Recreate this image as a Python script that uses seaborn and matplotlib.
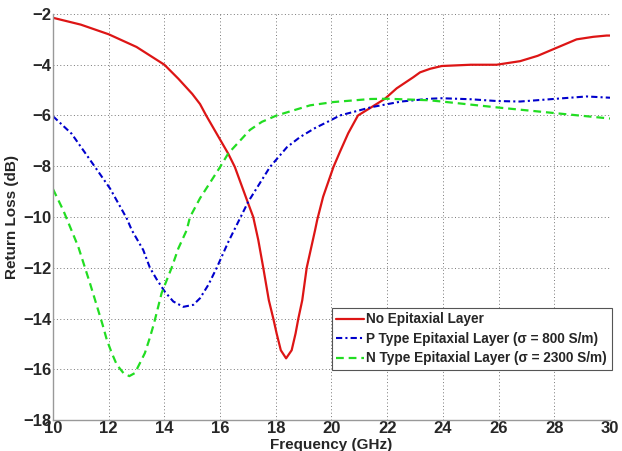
import matplotlib
matplotlib.use('Agg')
import matplotlib.pyplot as plt
import seaborn as sns

# (GHz, dB)
freq_none = [10, 11, 12, 13, 14, 14.5, 15, 15.28, 15.5, 16, 16.29, 16.53, 17.01, 17.19,
             17.37, 17.55, 17.75, 17.91, 18.03, 18.18, 18.37, 18.57, 18.71, 18.81, 18.95,
             19.11, 19.41, 19.49, 19.7, 20.07, 20.3, 20.6, 20.95, 21.44, 21.92, 22.34,
             22.94, 23.18, 23.54, 23.96, 25.0, 25.93, 26.77, 27.4, 27.96, 28.8, 29.4,
             29.88, 30]
rl_none = [-2.15, -2.42, -2.8, -3.3, -4.0, -4.55, -5.15, -5.55, -6.0, -6.95, -7.5, -8.03,
           -9.47, -10.0, -10.9, -12.0, -13.28, -14.0, -14.59, -15.25, -15.57, -15.25,
           -14.59, -14.0, -13.28, -12.0, -10.52, -10.1, -9.2, -8.03, -7.44, -6.7, -6.0,
           -5.67, -5.34, -4.93, -4.49, -4.3, -4.16, -4.05, -4.0, -4.0, -3.86, -3.65,
           -3.39, -3.0, -2.9, -2.85, -2.85]

freq_p = [10, 10.67, 11.51, 12.05, 12.65, 12.83, 13.24, 13.48, 13.72, 14.02, 14.32, 14.68,
          15.04, 15.28, 15.58, 15.88, 16.3, 17.01, 17.79, 18.4, 18.87, 19.4, 19.95, 20.3,
          21.44, 22.5, 23.54, 23.96, 25.0, 25.93, 26.77, 27.96, 29.16, 30]
rl_p = [-6.03, -6.72, -8.03, -8.88, -10.06, -10.52, -11.3, -12.0, -12.45, -12.95, -13.33,
        -13.54, -13.46, -13.2, -12.67, -12.0, -10.97, -9.4, -8.03, -7.25, -6.85, -6.5, -6.2,
        -6.0, -5.67, -5.45, -5.34, -5.32, -5.36, -5.43, -5.45, -5.35, -5.25, -5.3]

freq_n = [10, 10.37, 10.91, 11.33, 11.78, 11.93, 12.11, 12.29, 12.53, 12.74, 12.94, 13.12,
          13.3, 13.48, 13.63, 13.9, 14.26, 14.5, 14.8, 14.92, 15.28, 16.0, 16.29, 17.07,
          17.5, 18.03, 19.23, 20.07, 21.4, 22.0, 23.5, 23.96, 25.93, 27.96, 30]
rl_n = [-8.9, -9.74, -11.18, -12.62, -14.24, -14.83, -15.36, -15.82, -16.15, -16.27,
        -16.15, -15.76, -15.36, -14.75, -14.18, -13.0, -12.0, -11.24, -10.52, -10.0, -9.26,
        -8.03, -7.5, -6.57, -6.25, -6.0, -5.6, -5.47, -5.35, -5.34, -5.4, -5.45, -5.68,
        -5.9, -6.12]

labels = ['No Epitaxial Layer',
          'P Type Epitaxial Layer (\u03c3 = 800 S/m)',
          'N Type Epitaxial Layer (\u03c3 = 2300 S/m)']

sns.set_theme(style='white')
plt.rcParams['font.family'] = ['Liberation Sans', 'DejaVu Sans']

fig = plt.figure(figsize=(6.22, 4.51), dpi=100)
ax = fig.add_axes([0.0852, 0.0687, 0.8955, 0.9003])

sns.lineplot(x=freq_none, y=rl_none, ax=ax, color='#dd1515', linewidth=1.6,
             label=labels[0], sort=False)
sns.lineplot(x=freq_p, y=rl_p, ax=ax, color='#0000cc', linewidth=1.5,
             linestyle=(0, (3, 1.5, 1, 1.5)), label=labels[1], sort=False)
sns.lineplot(x=freq_n, y=rl_n, ax=ax, color='#22dd22', linewidth=1.6,
             linestyle=(0, (3.5, 2.2)), label=labels[2], sort=False)

ax.set_xlim(10, 30)
ax.set_ylim(-18, -2)
ax.set_xticks(range(10, 31, 2))
ax.set_yticks(range(-18, -1, 2))
ax.set_xticklabels([str(v) for v in range(10, 31, 2)])
ax.set_yticklabels(['\u2212' + str(abs(v)) for v in range(-18, -1, 2)])
ax.grid(True, color='#777777', linestyle=(0, (1, 2.5)), linewidth=0.7)

for s in ['top', 'right']:
    ax.spines[s].set_visible(False)
for s in ['left', 'bottom']:
    ax.spines[s].set_color('#999999')
    ax.spines[s].set_linewidth(1.0)

ax.tick_params(axis='both', direction='in', length=3, color='#999999',
               labelsize=12, pad=1)
for lab in ax.get_xticklabels() + ax.get_yticklabels():
    lab.set_fontweight('bold')

ax.set_xlabel('Frequency (GHz)', fontsize=11, fontweight='bold', labelpad=1)
ax.set_ylabel('Return Loss (dB)', fontsize=11, fontweight='bold', labelpad=3)

leg = ax.legend(loc='lower right', bbox_to_anchor=(1.003, 0.123), frameon=True,
                fancybox=False, framealpha=1, edgecolor='#555555',
                prop={'weight': 'bold', 'size': 9.8}, handlelength=2.0,
                handletextpad=0.2, borderpad=0.35, labelspacing=0.4, borderaxespad=0)
leg.get_frame().set_linewidth(0.8)

fig.savefig('out.png', dpi=100, facecolor='white')
